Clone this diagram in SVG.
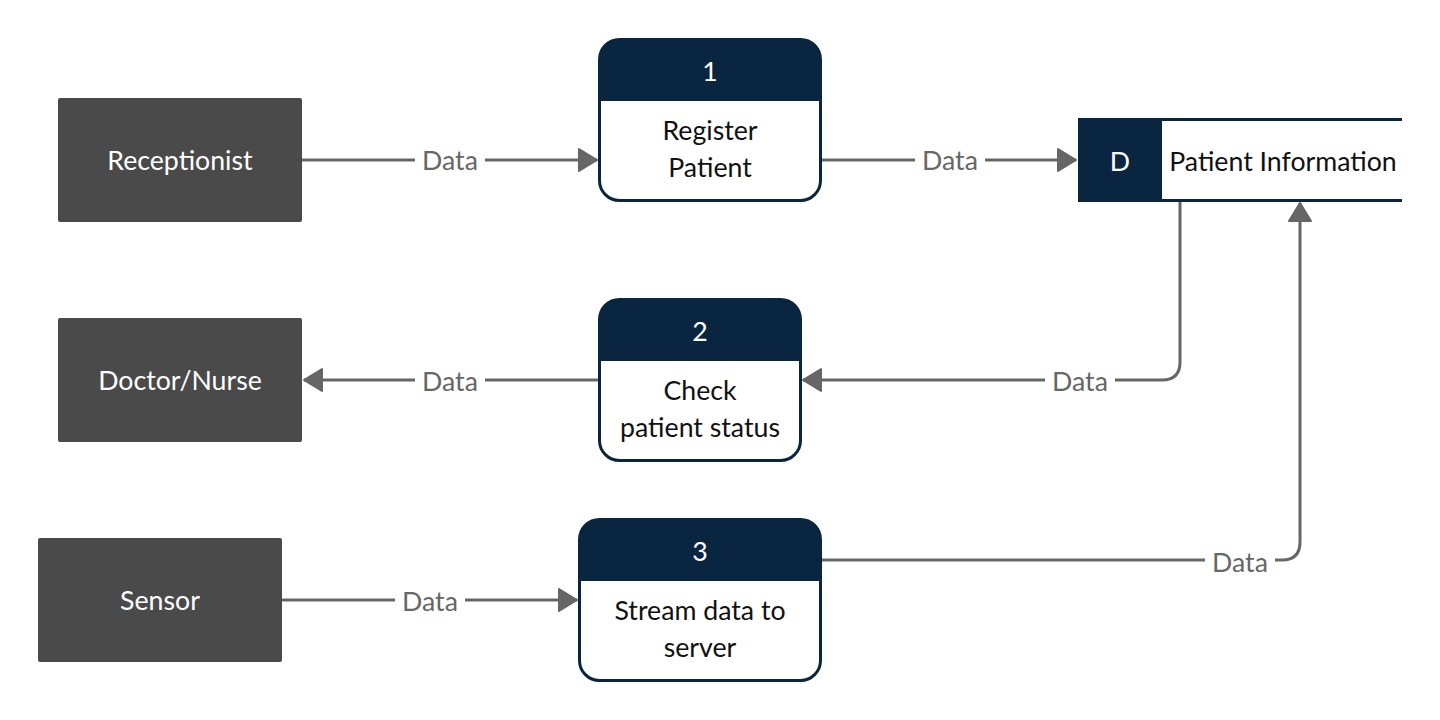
<svg xmlns="http://www.w3.org/2000/svg" width="1440" height="720" viewBox="0 0 1440 720">
<defs>
<marker id="arr" markerUnits="userSpaceOnUse" markerWidth="22" markerHeight="26" refX="20" refY="13" orient="auto">
<path d="M2,2 L20,13 L2,24 Z" fill="#666666" stroke="#666666" stroke-width="2" stroke-linejoin="round"/>
</marker>
</defs>
<style>
text{font-family:Lato,"Open Sans","Liberation Sans",sans-serif;font-size:26.7px;text-anchor:middle;dominant-baseline:central}
.ent{fill:#4a4a4a}
.entt{fill:#ffffff}
.hdr{fill:#0a2540}
.body{fill:#ffffff}
.frame{fill:none;stroke:#0a2540;stroke-width:3}
.bt{fill:#111111}
.wt{fill:#ffffff}
.edge{fill:none;stroke:#666666;stroke-width:3}
.lbl{fill:#666666}
.lblbg{fill:#ffffff}
</style>
<rect width="1440" height="720" fill="#ffffff"/>

<g id="connectors">
<path class="edge" d="M302,160 H597" marker-end="url(#arr)"/>
<rect class="lblbg" x="415" y="145" width="70" height="30"/>
<text class="lbl" x="450" y="160">Data</text>

<path class="edge" d="M821,160 H1076" marker-end="url(#arr)"/>
<rect class="lblbg" x="915" y="145" width="70" height="30"/>
<text class="lbl" x="950" y="160">Data</text>

<path class="edge" d="M1180,201 V362 Q1180,380 1162,380 H803" marker-end="url(#arr)"/>
<rect class="lblbg" x="1045" y="366" width="70" height="30"/>
<text class="lbl" x="1080" y="381">Data</text>

<path class="edge" d="M599,380 H304" marker-end="url(#arr)"/>
<rect class="lblbg" x="415" y="366" width="70" height="30"/>
<text class="lbl" x="450" y="381">Data</text>

<path class="edge" d="M282,600 H577" marker-end="url(#arr)"/>
<rect class="lblbg" x="395" y="586" width="70" height="30"/>
<text class="lbl" x="430" y="601">Data</text>

<path class="edge" d="M821,560 H1282 Q1300,560 1300,542 V203" marker-end="url(#arr)"/>
<rect class="lblbg" x="1205" y="547" width="70" height="30"/>
<text class="lbl" x="1240" y="562">Data</text>
</g>

<g id="receptionist">
<rect class="ent" x="58" y="98" width="244" height="124" rx="2"/>
<text class="entt" x="180" y="160">Receptionist</text>
</g>
<g id="doctor-nurse">
<rect class="ent" x="58" y="318" width="244" height="124" rx="2"/>
<text class="entt" x="180" y="380">Doctor/Nurse</text>
</g>
<g id="sensor">
<rect class="ent" x="38" y="538" width="244" height="124" rx="2"/>
<text class="entt" x="160" y="600">Sensor</text>
</g>

<g id="process-1">
<rect class="body" x="599.5" y="39.5" width="221" height="161" rx="20"/>
<path class="hdr" d="M599.5,101 V59.5 Q599.5,39.5 619.5,39.5 H800.5 Q820.5,39.5 820.5,59.5 V101 Z"/>
<rect class="frame" x="599.5" y="39.5" width="221" height="161" rx="20"/>
<text class="wt" x="710" y="71">1</text>
<text class="bt" x="710" y="130">Register</text>
<text class="bt" x="710" y="167">Patient</text>
</g>

<g id="process-2">
<rect class="body" x="599.5" y="299.5" width="201" height="161" rx="20"/>
<path class="hdr" d="M599.5,361 V319.5 Q599.5,299.5 619.5,299.5 H780.5 Q800.5,299.5 800.5,319.5 V361 Z"/>
<rect class="frame" x="599.5" y="299.5" width="201" height="161" rx="20"/>
<text class="wt" x="700" y="331">2</text>
<text class="bt" x="700" y="390">Check</text>
<text class="bt" x="700" y="427">patient status</text>
</g>

<g id="process-3">
<rect class="body" x="579.5" y="519.5" width="241" height="161" rx="20"/>
<path class="hdr" d="M579.5,581 V539.5 Q579.5,519.5 599.5,519.5 H800.5 Q820.5,519.5 820.5,539.5 V581 Z"/>
<rect class="frame" x="579.5" y="519.5" width="241" height="161" rx="20"/>
<text class="wt" x="700" y="551">3</text>
<text class="bt" x="700" y="610">Stream data to</text>
<text class="bt" x="700" y="647">server</text>
</g>

<g id="datastore-patient-information">
<rect class="body" x="1078" y="119" width="324" height="82"/>
<rect class="hdr" x="1078" y="118" width="84" height="84" rx="2"/>
<line x1="1078" y1="119.5" x2="1402" y2="119.5" stroke="#0a2540" stroke-width="3"/>
<line x1="1078" y1="200.5" x2="1402" y2="200.5" stroke="#0a2540" stroke-width="3"/>
<text class="wt" x="1120" y="161">D</text>
<text class="bt" x="1283" y="161">Patient Information</text>
</g>
</svg>
